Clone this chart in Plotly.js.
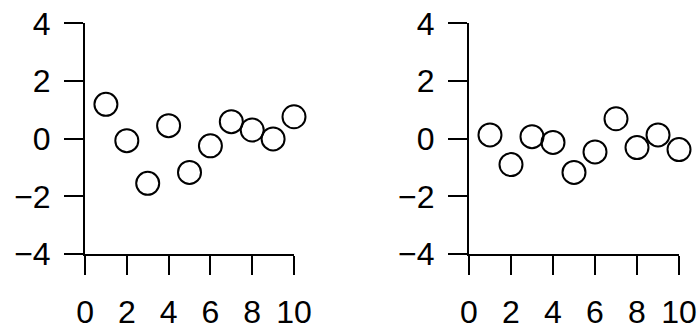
<!DOCTYPE html>
<html>
<head>
<meta charset="utf-8">
<script src="https://cdn.plot.ly/plotly-3.0.1.min.js"></script>
<style>
  html, body { margin: 0; padding: 0; background: #fff; }
  #plot { width: 698px; height: 326px; }
</style>
</head>
<body>
<div id="plot"></div>
<script>
// data
const xIdx   = [1, 2, 3, 4, 5, 6, 7, 8, 9, 10];
const yLeft  = [1.19, -0.07, -1.55, 0.45, -1.17, -0.25, 0.59, 0.30, -0.01, 0.76];
const yRight = [0.13, -0.90, 0.07, -0.13, -1.17, -0.46, 0.69, -0.31, 0.13, -0.38];
const xTicks = [0, 2, 4, 6, 8, 10];
const yTicks = [-4, -2, 0, 2, 4];

const FONT = { family: 'Liberation Sans, Arial, sans-serif', size: 32, color: '#000' };

const pts = (y, xa, ya) => ({
  x: xIdx, y: y, xaxis: xa, yaxis: ya,
  type: 'scatter', mode: 'markers', cliponaxis: false, hoverinfo: 'skip',
  marker: { symbol: 'circle-open', size: 23, color: '#000', line: { color: '#000', width: 2 } }
});

/* ── shared axis styles (R base look) ── */
const AX = {
  showline: true, linecolor: '#000', linewidth: 2,
  ticks: 'outside', ticklen: 19, tickwidth: 2, tickcolor: '#000',
  showgrid: false, zeroline: false, tickfont: FONT, fixedrange: true
};
const XA = { ...AX, range: [0, 10], tickvals: xTicks, ticklabelstandoff: 10 };
const YA = { ...AX, range: [-4, 4], tickvals: yTicks, ticklabelstandoff: 7 };

Plotly.newPlot('plot', [
  pts(yLeft, 'x', 'y'),
  pts(yRight, 'x2', 'y2')
], {
  width: 698, height: 326,
  paper_bgcolor: '#fff', plot_bgcolor: '#fff',
  showlegend: false,
  margin: { t: 0, r: 0, b: 0, l: 0 },
  xaxis:  { ...XA, domain: [0.1218, 0.4212], anchor: 'y' },
  yaxis:  { ...YA, domain: [0.2209, 0.9285], anchor: 'x' },
  xaxis2: { ...XA, domain: [0.6719, 0.9728], anchor: 'y2' },
  yaxis2: { ...YA, domain: [0.2209, 0.9285], anchor: 'x2' }
}, { displayModeBar: false, staticPlot: true });
</script>
</body>
</html>
